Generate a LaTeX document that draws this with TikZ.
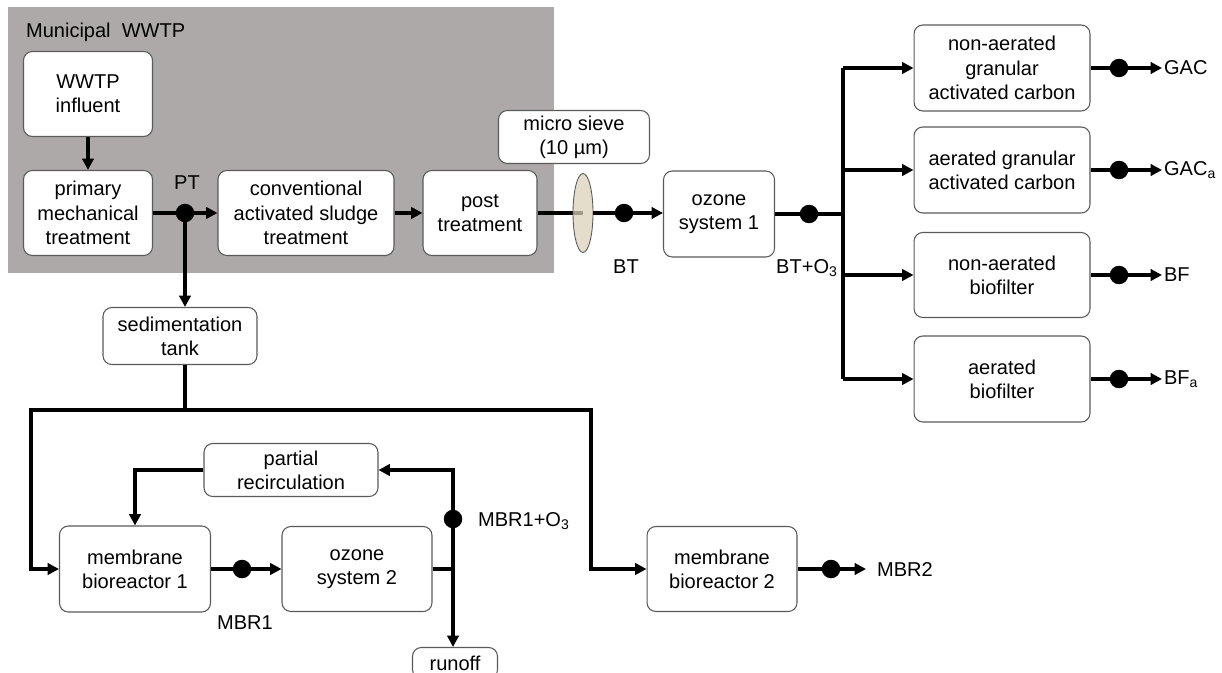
\documentclass[tikz,border=0pt]{standalone}
\usepackage{fontspec}
\setmainfont{Liberation Sans}
\usetikzlibrary{arrows.meta,positioning,shapes.geometric}
\definecolor{PlantGray}{HTML}{ADA9A8}
\definecolor{BoxEdge}{HTML}{5A5A5A}
\definecolor{SieveTan}{HTML}{DCD1BA}

\begin{document}
\begin{tikzpicture}[
  x=0.02cm, y=-0.02cm,
  font=\fontsize{11.4}{13.8}\selectfont,
  unitbox/.style={draw=BoxEdge, fill=white, rounded corners=5pt, line width=0.6pt,
    align=center, inner sep=2pt},
  dotnode/.style={circle, fill=black, inner sep=0pt, minimum size=0.37cm},
  tag/.style={inner sep=1pt, align=center},
  pipe/.style={line width=2.2pt},
  flow/.style={-{Triangle[length=6.5pt,width=6.5pt]}, line width=2.2pt}
]
\useasboundingbox (0,0) rectangle (1222,672);

% municipal plant
\fill[PlantGray] (8,7) rectangle (554,273);
\node[tag, anchor=west] (plant) at (24,32) {Municipal\ \ WWTP};

\node[unitbox, minimum width=2.58cm, minimum height=1.70cm] (influent) at (88,94) {WWTP\\influent};
\node[unitbox, minimum width=2.58cm, minimum height=1.70cm] (primary) at (88,213) {primary\\mechanical\\treatment};
\node[unitbox, minimum width=3.52cm, minimum height=1.70cm] (cas) at (306,213) {conventional\\activated sludge\\treatment};
\node[unitbox, minimum width=2.28cm, minimum height=1.70cm] (post) at (480,213) {post\\treatment};
\node[unitbox, minimum width=3.02cm, minimum height=1.06cm] (sievebox) at (574,137) {micro sieve\\(10 µm)};
\node[unitbox, minimum width=2.22cm, minimum height=1.72cm] (ozone1) at (719,214) {ozone\\system 1};

% post-treatment units
\node[unitbox, minimum width=3.52cm, minimum height=1.72cm] (gac) at (1002,68) {non-aerated\\granular\\activated carbon};
\node[unitbox, minimum width=3.52cm, minimum height=1.72cm] (gaca) at (1002,170) {aerated granular\\activated carbon};
\node[unitbox, minimum width=3.52cm, minimum height=1.70cm] (bf) at (1002,275) {non-aerated\\biofilter};
\node[unitbox, minimum width=3.52cm, minimum height=1.72cm] (bfa) at (1002,379) {aerated\\biofilter};

% membrane line
\node[unitbox, minimum width=3.08cm, minimum height=1.14cm] (sed) at (180,336) {sedimentation\\tank};
\node[unitbox, minimum width=3.48cm, minimum height=1.06cm] (recirc) at (291,470) {partial\\recirculation};
\node[unitbox, minimum width=3.02cm, minimum height=1.72cm] (mbr1) at (135,569) {membrane\\bioreactor 1};
\node[unitbox, minimum width=3.00cm, minimum height=1.70cm] (ozone2) at (357,569) {ozone\\system 2};
\node[unitbox, minimum width=1.70cm, minimum height=0.62cm] (runoff) at (455,663) {runoff};
\node[unitbox, minimum width=3.00cm, minimum height=1.70cm] (mbr2) at (722,569) {membrane\\bioreactor 2};

% connectors, upper line
\draw[flow] (influent) -- (primary);
\draw[flow] (primary) -- (cas);
\draw[flow] (cas) -- (post);
\coordinate (sievec) at (583,213);
\draw[pipe] (post.east) -- (sievec);
\node[ellipse, draw=BoxEdge, fill=SieveTan, fill opacity=0.75, line width=0.5pt,
  inner sep=0pt, minimum width=0.40cm, minimum height=1.58cm] (sieve) at (sievec) {};
\draw[flow] (sieve.east) -- (ozone1.west |- sievec);

\coordinate (split) at (843,214);
\draw[pipe] (ozone1.east) -- (split);
\draw[pipe] (split |- gac.west) -- (split |- bfa.west);
\draw[flow] (split |- gac.west) -- (gac.west);
\draw[flow] (split |- gaca.west) -- (gaca.west);
\draw[flow] (split |- bf.west) -- (bf.west);
\draw[flow] (split |- bfa.west) -- (bfa.west);

\node[tag, anchor=west] (gacout) at (1162,68) {GAC};
\node[tag, anchor=west] (gacaout) at (1162,170) {GAC\textsubscript{a}};
\node[tag, anchor=west] (bfout) at (1162,275) {BF};
\node[tag, anchor=west] (bfaout) at (1162,379) {BF\textsubscript{a}};
\draw[flow] (gac.east) -- (gacout.west);
\draw[flow] (gaca.east) -- (gacaout.west);
\draw[flow] (bf.east) -- (bfout.west);
\draw[flow] (bfa.east) -- (bfaout.west);

% connectors, lower line
\coordinate (pt) at (185,213);
\coordinate (bus) at (185,410);
\coordinate (busL) at (31,410);
\coordinate (busR) at (591,410);
\draw[flow] (pt) -- (pt |- sed.north);
\draw[pipe] (pt |- sed.south) -- (bus);
\draw[flow] (bus) -- (busL) |- (mbr1.west);
\draw[flow] (bus) -- (busR) |- (mbr2.west);

\draw[flow] (mbr1) -- (ozone2);
\coordinate (junction) at (453,569);
\draw[pipe] (ozone2.east) -- (junction);
\draw[flow] (junction) |- (recirc.east);
\draw[flow] (junction) -- (junction |- runoff.north);
\draw[flow] (recirc.west) -| (mbr1.north);

\coordinate (mbr2end) at (866,569);
\draw[flow] (mbr2.east) -- (mbr2end);
\node[tag, anchor=west] (mbr2out) at (875,569) {MBR2};

% sampling points
\node[dotnode] (ptdot) at (pt) {};
\node[dotnode] (btdot) at (624,213) {};
\node[dotnode] (btodot) at (809,214) {};
\node[dotnode] at (1119,68) {};
\node[dotnode] at (1119,170) {};
\node[dotnode] at (1119,275) {};
\node[dotnode] at (1119,379) {};
\node[dotnode] (mbr1dot) at (242,569) {};
\node[dotnode] (mbrodot) at (453,519) {};
\node[dotnode] at (831,569) {};

\node[tag] (ptlabel) at (187,183) {PT};
\node[tag] (btlabel) at (626,267) {BT};
\node[tag] (btolabel) at (807,268) {BT+O\textsubscript{3}};
\node[tag] (mbr1label) at (245,623) {MBR1};
\node[tag, anchor=west] (mbrolabel) at (476,521) {MBR1+O\textsubscript{3}};

\end{tikzpicture}
\end{document}
